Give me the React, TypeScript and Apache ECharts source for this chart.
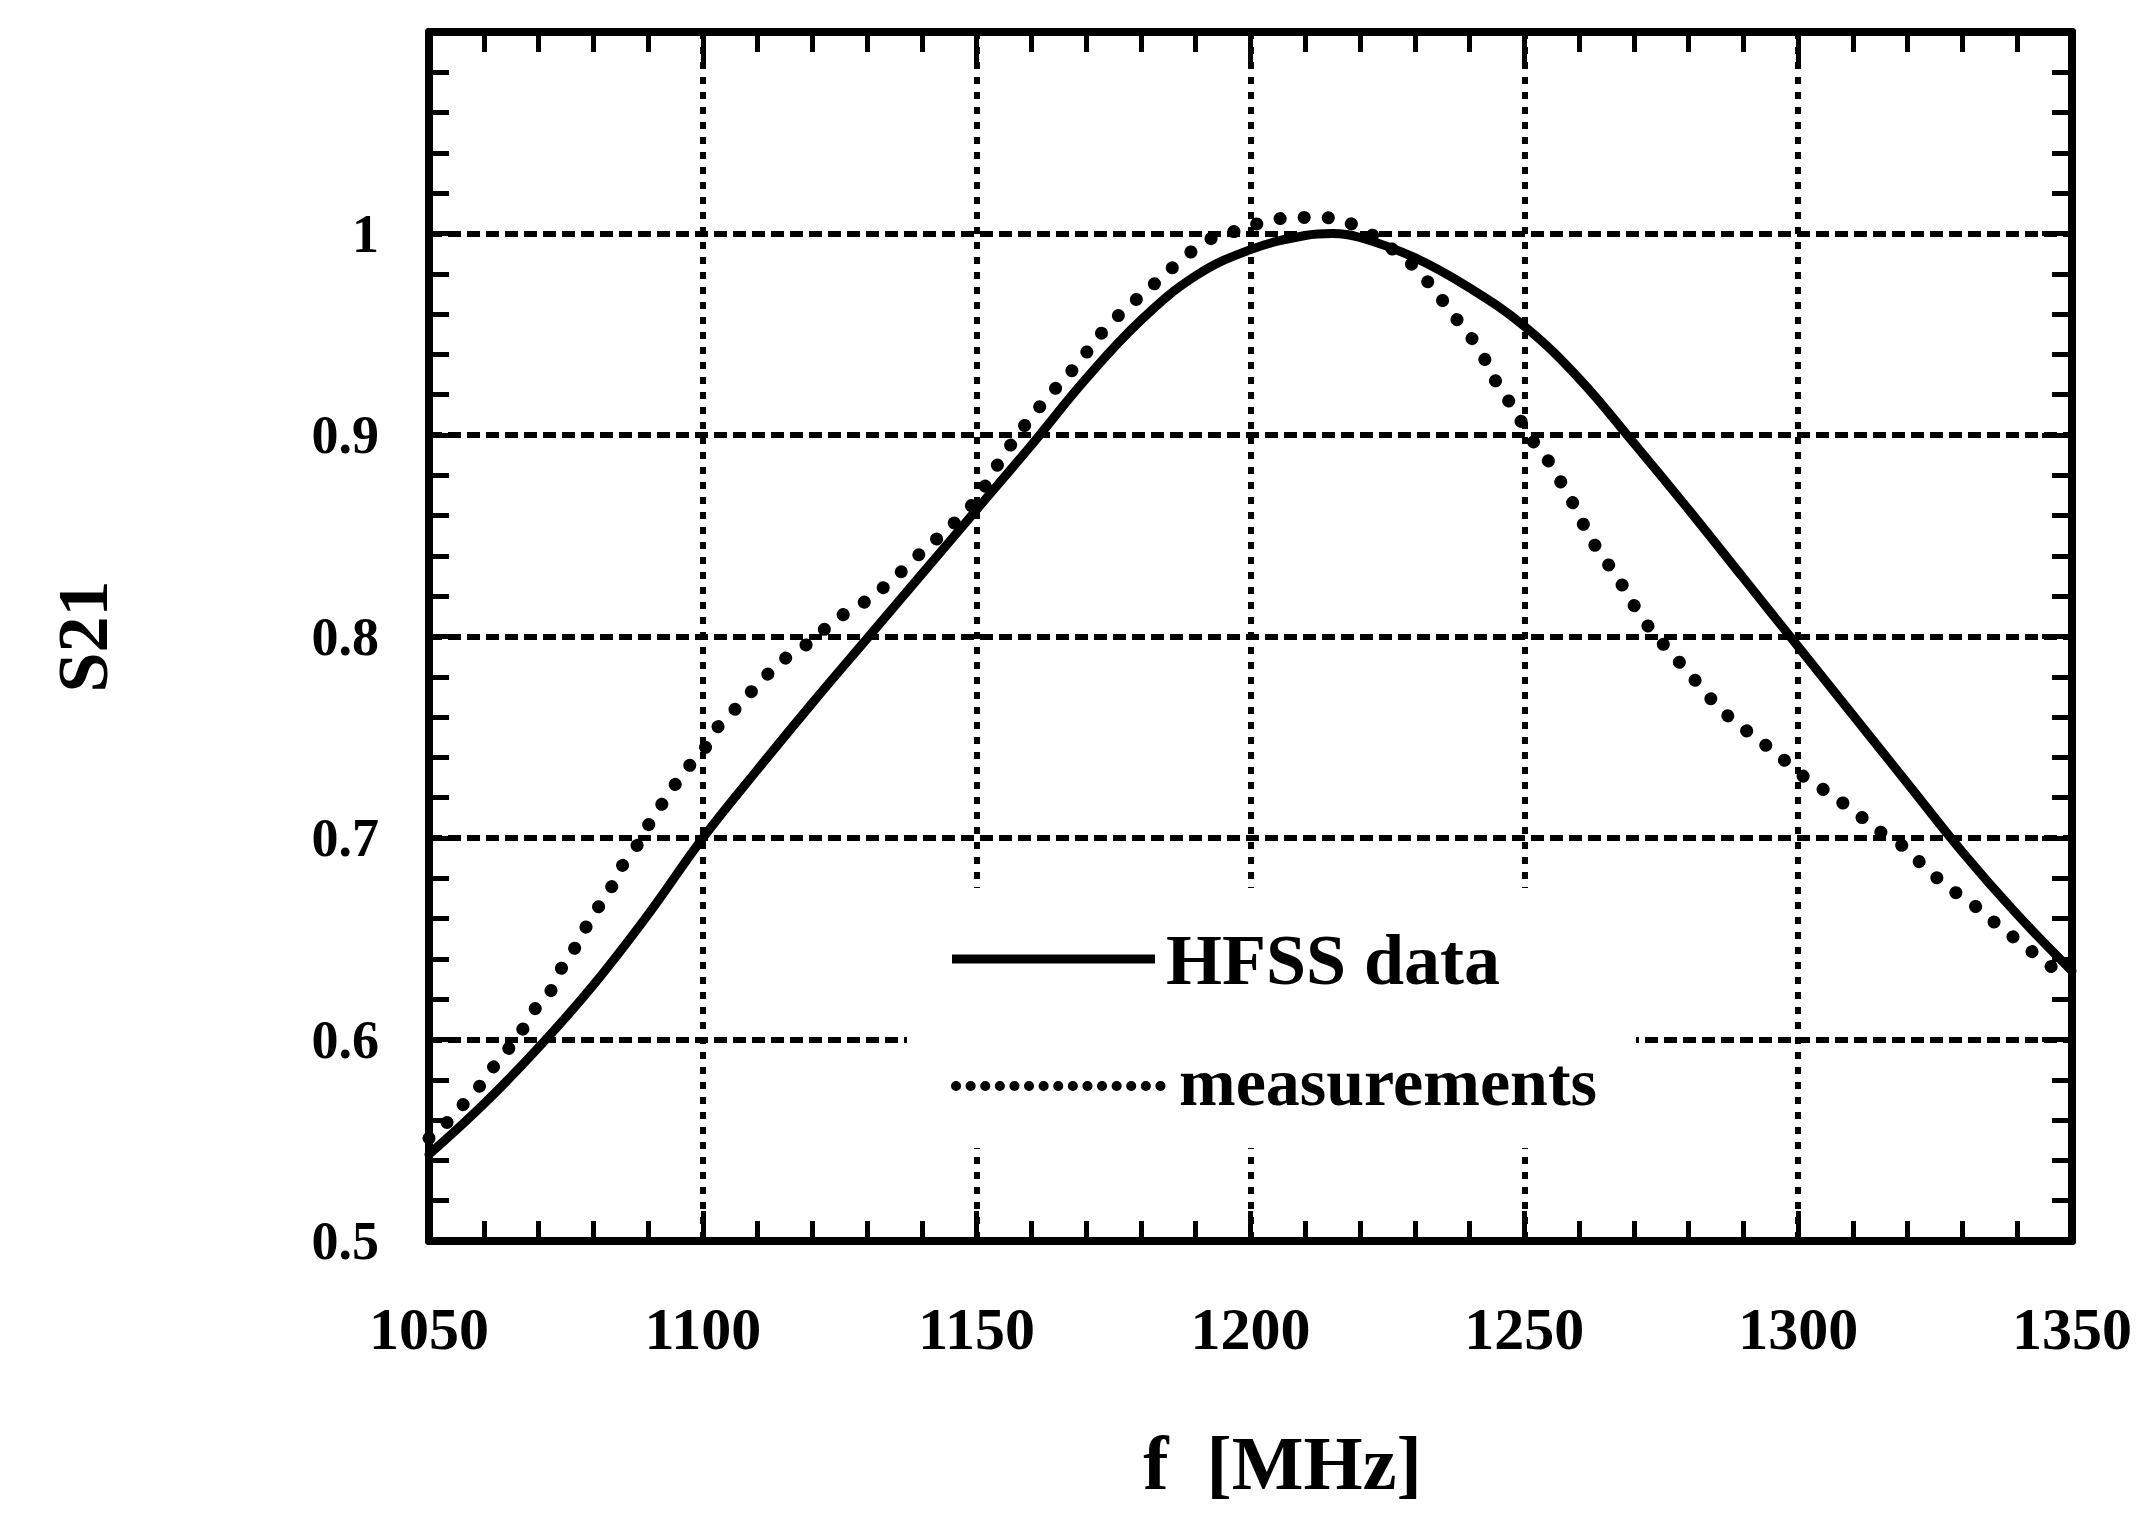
import { useEffect, useRef } from 'react';
import * as echarts from 'echarts';

// Frequency axis (MHz) and S21 axis ranges
const FREQ_MIN = 1050;
const FREQ_MAX = 1350;
const FREQ_STEP = 50;
const S21_MIN = 0.5;
const S21_MAX = 1.1;
const S21_STEP = 0.1;

// HFSS simulation
const hfssFreq = [
  1050, 1060, 1070, 1080, 1090, 1100, 1110, 1120, 1130, 1140, 1150, 1160, 1170, 1180,
  1190, 1200, 1210, 1215, 1220, 1230, 1240, 1250, 1260, 1270, 1280, 1290, 1300, 1310,
  1320, 1330, 1340, 1350,
];
const hfssS21 = [
  0.543, 0.568, 0.596, 0.627, 0.662, 0.700, 0.734, 0.767, 0.799, 0.831, 0.863, 0.895, 0.928, 0.957,
  0.979, 0.992, 0.999, 1.0, 0.998, 0.988, 0.973, 0.954, 0.928, 0.896, 0.863, 0.829, 0.795, 0.761,
  0.727, 0.693, 0.662, 0.634,
];

// Measured transmission
const measFreq = [
  1050, 1053, 1056, 1059.6, 1063, 1066, 1069, 1072, 1074.5, 1077, 1079.5, 1083, 1085, 1088.4,
  1090.6, 1093.6, 1096.6, 1100, 1102.7, 1107, 1111, 1115, 1120, 1124, 1130, 1135, 1140, 1145,
  1150, 1154, 1158, 1161.5, 1165, 1168.4, 1172.3, 1176.9, 1180.8, 1185.3, 1189.2, 1193.2, 1198.4,
  1202.6, 1207.8, 1211.7, 1216.3, 1221.2, 1225, 1229.7, 1233.6, 1237.2, 1240.4, 1243.1, 1245.3,
  1248.4, 1250.7, 1253.7, 1256.8, 1259.5, 1261.8, 1264.2, 1267.1, 1269.9, 1272.9, 1276.4, 1279.7,
  1284.1, 1288.2, 1292.2, 1297.3, 1301.7, 1305.8, 1310.8, 1314.5, 1319.6, 1323.3, 1327.7, 1332.4,
  1336.8, 1341.6, 1346.3, 1350,
];
const measS21 = [
  0.551, 0.558, 0.567, 0.578, 0.591, 0.600, 0.614, 0.623, 0.637, 0.647, 0.660, 0.674, 0.685, 0.698,
  0.709, 0.721, 0.733, 0.743, 0.755, 0.767, 0.779, 0.789, 0.798, 0.808, 0.818, 0.829, 0.842, 0.854,
  0.868, 0.886, 0.902, 0.914, 0.925, 0.935, 0.949, 0.962, 0.971, 0.982, 0.991, 0.998, 1.002,
  1.006, 1.008, 1.008, 1.007, 1.001, 0.994, 0.984, 0.972, 0.959, 0.948, 0.936, 0.924,
  0.912, 0.900, 0.890, 0.876, 0.863, 0.850, 0.840, 0.829, 0.816, 0.804, 0.793, 0.783,
  0.769, 0.758, 0.750, 0.739, 0.729, 0.722, 0.712, 0.704, 0.695, 0.685, 0.675, 0.666,
  0.656, 0.646, 0.636, 0.632,
];

const seriesNames = ['HFSS data', 'measurements'];
const xTitle = 'f  [MHz]';
const yTitle = 'S21';

const FONT = '"Liberation Serif", "Times New Roman", serif';
const INK = '#000';

const W = 2155;
const H = 1513;
const GRID = { left: 429, right: 83, top: 32, bottom: 272 };

const frameAxis = {
  axisLine: { show: true, onZero: false, lineStyle: { color: INK, width: 8 } },
  axisTick: { show: true, inside: true, length: 30, lineStyle: { color: INK, width: 5 } },
  minorTick: { show: true, splitNumber: 5, length: 20, lineStyle: { color: INK, width: 5 } },
};

export default function App() {
  const ref = useRef<HTMLDivElement>(null);

  useEffect(() => {
    if (!ref.current) return;
    const chart = echarts.init(ref.current, undefined, { renderer: 'svg', width: W, height: H });

    const legendX = 907;
    const legendY = 888;
    const legendZ = 100;

    chart.setOption({
      animation: false,
      backgroundColor: '#fff',
      textStyle: { fontFamily: FONT, color: INK },
      grid: { ...GRID, containLabel: false, outerBoundsMode: 'none' },
      xAxis: [
        {
          type: 'value',
          position: 'bottom',
          min: FREQ_MIN,
          max: FREQ_MAX,
          interval: FREQ_STEP,
          ...frameAxis,
          axisLabel: {
            show: true,
            margin: 58,
            fontSize: 60,
            fontWeight: 'bold',
            fontFamily: FONT,
            color: INK,
            formatter: (v: number) => String(v),
          },
          splitLine: {
            show: true,
            showMinLine: false,
            showMaxLine: false,
            lineStyle: { color: INK, width: 6, type: [7, 8] },
          },
          name: xTitle,
          nameLocation: 'middle',
          nameGap: 184,
          nameTextStyle: {
            fontSize: 76,
            fontWeight: 'bold',
            fontFamily: FONT,
            color: INK,
            padding: [0, 0, 0, 64],
          },
        },
        {
          type: 'value',
          position: 'top',
          min: FREQ_MIN,
          max: FREQ_MAX,
          interval: FREQ_STEP,
          ...frameAxis,
          axisLabel: { show: false },
          splitLine: { show: false },
        },
      ],
      yAxis: [
        {
          type: 'value',
          position: 'left',
          min: S21_MIN,
          max: S21_MAX,
          interval: S21_STEP,
          ...frameAxis,
          axisLabel: {
            show: true,
            margin: 50,
            fontSize: 54,
            fontWeight: 'bold',
            fontFamily: FONT,
            color: INK,
            formatter: (v: number) => {
              if (v > 1.05) return '';
              if (Math.abs(v - 1) < 1e-9) return '1';
              return v.toFixed(1);
            },
          },
          splitLine: {
            show: true,
            showMinLine: false,
            showMaxLine: false,
            lineStyle: { color: INK, width: 6, type: [13, 6] },
          },
          name: yTitle,
          nameLocation: 'middle',
          nameRotate: 90,
          nameGap: 310,
          nameTextStyle: {
            fontSize: 72,
            fontWeight: 'bold',
            fontFamily: FONT,
            color: INK,
          },
        },
        {
          type: 'value',
          position: 'right',
          min: S21_MIN,
          max: S21_MAX,
          interval: S21_STEP,
          ...frameAxis,
          axisLabel: { show: false },
          splitLine: { show: false },
        },
      ],
      series: [
        {
          name: seriesNames[0],
          type: 'line',
          xAxisIndex: 0,
          yAxisIndex: 0,
          data: hfssFreq.map((f, i) => [f, hfssS21[i]]),
          symbol: 'none',
          smooth: 0.4,
          lineStyle: { color: INK, width: 9, cap: 'round', join: 'round' },
          z: 3,
        },
        {
          name: seriesNames[1],
          type: 'line',
          xAxisIndex: 0,
          yAxisIndex: 0,
          data: measFreq.map((f, i) => [f, measS21[i]]),
          symbol: 'none',
          smooth: 0.25,
          lineStyle: { color: INK, width: 13, type: [0.1, 24], cap: 'round' },
          z: 4,
        },
      ],
      graphic: [
        {
          type: 'rect',
          z: legendZ,
          shape: { x: legendX, y: legendY, width: 729, height: 260 },
          style: { fill: '#fff', stroke: 'none' },
        },
        {
          type: 'line',
          z: legendZ + 1,
          shape: { x1: 952, y1: 959, x2: 1155, y2: 959 },
          style: { stroke: INK, lineWidth: 9 },
        },
        {
          type: 'text',
          z: legendZ + 1,
          x: 1166,
          y: 960,
          style: {
            text: seriesNames[0],
            fontSize: 72,
            fontWeight: 'bold',
            fontFamily: FONT,
            fill: INK,
            align: 'left',
            verticalAlign: 'middle',
          },
        },
        {
          type: 'line',
          z: legendZ + 1,
          shape: { x1: 956, y1: 1086, x2: 1164, y2: 1086 },
          style: { stroke: INK, lineWidth: 10, lineDash: [0.1, 14.5], lineCap: 'round' },
        },
        {
          type: 'text',
          z: legendZ + 1,
          x: 1179,
          y: 1082,
          style: {
            text: seriesNames[1],
            fontSize: 68,
            fontWeight: 'bold',
            fontFamily: FONT,
            fill: INK,
            align: 'left',
            verticalAlign: 'middle',
          },
        },
      ],
    });

    return () => chart.dispose();
  }, []);

  return (
    <div
      ref={ref}
      style={{ position: 'fixed', left: 0, top: 0, width: W, height: H, background: '#fff' }}
    />
  );
}
